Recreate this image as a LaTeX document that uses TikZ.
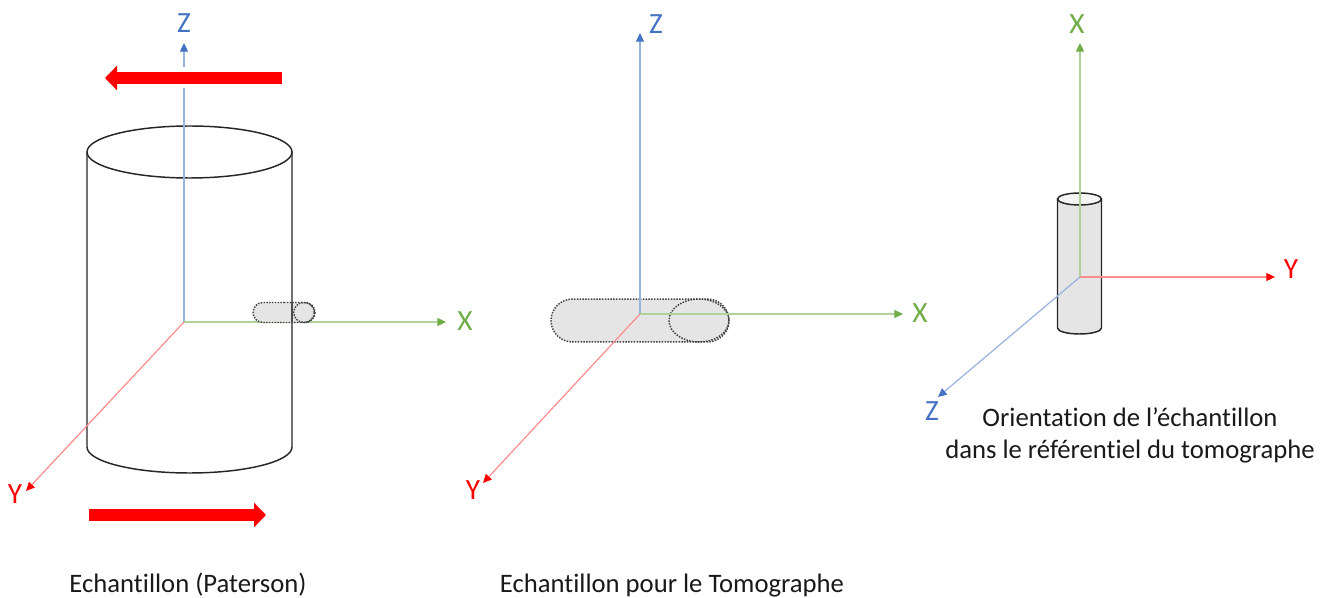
\documentclass[tikz,border=0pt]{standalone}
\usepackage{fontspec}
\setmainfont[Ligatures=NoCommon]{Carlito}
\usetikzlibrary{arrows.meta,shapes.misc,shapes.geometric}
\definecolor{axisblue}{HTML}{4472C4}
\definecolor{axisgreen}{HTML}{70AD47}
\tikzset{
  axis z/.style={axisblue!55,line width=0.9pt,-{Triangle[length=6.5pt,width=6pt,color=axisblue]}},
  axis x/.style={axisgreen!55,line width=0.9pt,-{Triangle[length=6.5pt,width=6pt,color=axisgreen]}},
  axis y/.style={red!45,line width=0.9pt,-{Triangle[length=6.5pt,width=6pt,color=red]}},
  label z/.style={text=axisblue,font=\fontsize{22}{22}\selectfont,inner sep=0pt},
  label x/.style={text=axisgreen,font=\fontsize{22}{22}\selectfont,inner sep=0pt},
  label y/.style={text=red,font=\fontsize{22}{22}\selectfont,inner sep=0pt},
  caption text/.style={font=\fontsize{20}{24}\selectfont,text=black!90,align=center,inner sep=0pt},
  shear arrow/.style={red,line width=9pt,-{Triangle[length=9pt,width=18pt]}},
  cyl line/.style={draw=black!85,line width=1.1pt},
  sample line/.style={draw=black!75,line width=1.1pt,densely dotted},
  sample fill/.style={fill=black!10},
}
\begin{document}
\begin{tikzpicture}[x=0.75pt,y=-0.75pt]
  \useasboundingbox (0,0) rectangle (1332,598);
  % Echantillon (Paterson)
  \coordinate (o1) at (184,322);
  \coordinate (z1) at (184,43);
  \coordinate (x1) at (446,322);
  \coordinate (y1) at (26,491);
  \draw[cyl line] (87,152) -- (87,447) arc[start angle=180,end angle=0,x radius=102.5,y radius=26] -- (292,152);
  \draw[cyl line] (189.5,152) ellipse[x radius=102.5,y radius=26];
  \draw[axis z] (o1) -- (z1);
  \draw[axis x] (o1) -- (x1);
  \draw[axis y] (o1) -- (y1);
  \node[rounded rectangle,sample line,sample fill,minimum width=46.5pt,minimum height=15pt,inner sep=0pt] (s1) at (284,312.5) {};
  \node[ellipse,sample line,minimum width=15.5pt,minimum height=15pt,inner sep=0pt] (e1) at (304,312.5) {};
  \draw[black!70,line width=1.1pt] (292,302) -- (292,322);
  \node[label z] (lz1) at (184,23) {Z};
  \node[label x] (lx1) at (465,321) {X};
  \node[label y] (ly1) at (15,494) {Y};
  % fleches rouges
  \fill[white] (98,67) rectangle (283,88);
  \coordinate (a1) at (282,78);
  \coordinate (a2) at (105,78);
  \coordinate (b1) at (89,515);
  \coordinate (b2) at (266,515);
  \draw[shear arrow] (a1) -- (a2);
  \draw[shear arrow] (b1) -- (b2);
  \node[caption text,anchor=base] (c1) at (188,592) {Echantillon (Paterson)};
  % Echantillon pour le Tomographe
  \coordinate (o2) at (640,314);
  \coordinate (z2) at (640,33);
  \coordinate (x2) at (903,314);
  \coordinate (y2) at (483,483);
  \node[rounded rectangle,sample line,sample fill,minimum width=133.5pt,minimum height=32.2pt,inner sep=0pt] (s2) at (640,320.5) {};
  \node[ellipse,sample line,minimum width=45pt,minimum height=32.2pt,inner sep=0pt] (e2) at (699,320.5) {};
  \draw[axis z] (o2) -- (z2);
  \draw[axis x] (o2) -- (x2);
  \draw[axis y] (o2) -- (y2);
  \node[label z] (lz2) at (656,24) {Z};
  \node[label x] (lx2) at (920,313) {X};
  \node[label y] (ly2) at (473,490) {Y};
  \node[caption text,anchor=base] (c2) at (672,592) {Echantillon pour le Tomographe};
  % Orientation
  \coordinate (o3) at (1080,277);
  \coordinate (x3) at (1080,43);
  \coordinate (y3) at (1275,277);
  \coordinate (z3) at (938,397);
  \draw[cyl line,sample fill] (1057.5,199) -- (1057.5,328) arc[start angle=180,end angle=0,x radius=22,y radius=6] -- (1101.5,199) -- cycle;
  \draw[cyl line,fill=black!4] (1079.5,199) ellipse[x radius=22,y radius=6];
  \draw[axis x] (o3) -- (x3);
  \draw[axis y] (o3) -- (y3);
  \draw[axis z] (o3) -- (z3);
  \node[label x] (lx3) at (1077,24) {X};
  \node[label y] (ly3) at (1291,269) {Y};
  \node[label z] (lz3) at (932,411) {Z};
  \node[caption text] (c3) at (1130,435) {Orientation de l’échantillon\\dans le référentiel du tomographe};
\end{tikzpicture}
\end{document}
